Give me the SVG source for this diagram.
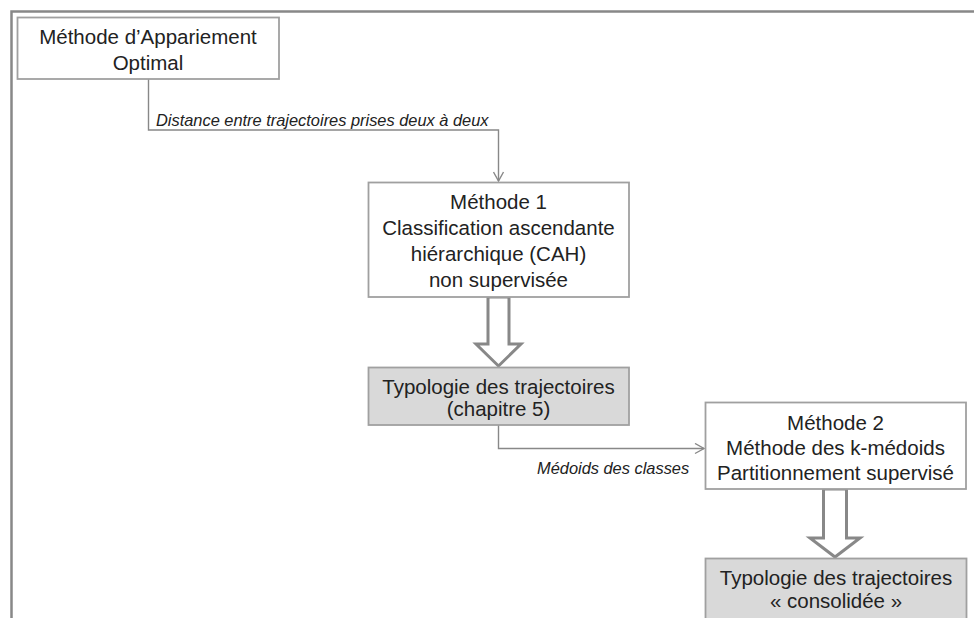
<svg xmlns="http://www.w3.org/2000/svg" width="974" height="618" viewBox="0 0 974 618">
<style>
.box{fill:#fff;stroke:#a0a0a0;stroke-width:1.8}
.gbox{fill:#d9d9d9;stroke:#a0a0a0;stroke-width:1.8}
.t{font-family:"Liberation Sans",Arial,sans-serif;font-size:20.5px;fill:#222;text-anchor:middle}
.lbl{font-family:"Liberation Sans",Arial,sans-serif;font-size:16.4px;font-style:italic;fill:#222}
.conn{fill:none;stroke:#888;stroke-width:1.4}
.big{fill:#fff;stroke:#888;stroke-width:3;stroke-linejoin:miter}
</style>
<defs>
<marker id="ah" markerWidth="12" markerHeight="12" refX="10" refY="6" orient="auto" markerUnits="userSpaceOnUse">
<path d="M1,1 L10,6 L1,11" fill="none" stroke="#888" stroke-width="1.4"/>
</marker>
</defs>
<rect width="974" height="618" fill="#fff"/>
<g id="frame">
<path d="M11.5,618 V11.5 H974" fill="none" stroke="#888" stroke-width="2.5"/>
</g>
<g id="connectors">
<path class="conn" d="M148.5,79 V130 H498.5 V181" marker-end="url(#ah)"/>
<text class="lbl" x="156" y="126">Distance entre trajectoires prises deux à deux</text>
<path class="conn" d="M498.5,425 V448.5 H704" marker-end="url(#ah)"/>
<text class="lbl" x="537" y="474">Médoids des classes</text>
<path class="big" d="M488,297 V344 H476 L498.5,366 L521,344 H509 V297 Z"/>
<path class="big" d="M823.5,489 V538 H810 L835,557 L860,538 H846.5 V489 Z"/>
</g>
<g id="n1">
<rect class="box" x="17.5" y="17.5" width="261.5" height="61.5"/>
<text class="t" x="148" y="44">Méthode d’Appariement</text>
<text class="t" x="148" y="70">Optimal</text>
</g>
<g id="n2">
<rect class="box" x="368.5" y="182.5" width="260.5" height="114.5"/>
<text class="t" x="498.5" y="209">Méthode 1</text>
<text class="t" x="498.5" y="235">Classification ascendante</text>
<text class="t" x="498.5" y="261">hiérarchique (CAH)</text>
<text class="t" x="498.5" y="287">non supervisée</text>
</g>
<g id="n3">
<rect class="gbox" x="368.5" y="367.5" width="260.5" height="57.5"/>
<text class="t" x="498.5" y="394">Typologie des trajectoires</text>
<text class="t" x="498.5" y="416">(chapitre 5)</text>
</g>
<g id="n4">
<rect class="box" x="705.5" y="402.5" width="260.5" height="86.5"/>
<text class="t" x="835.5" y="430">Méthode 2</text>
<text class="t" x="835.5" y="455">Méthode des k-médoids</text>
<text class="t" x="835.5" y="480">Partitionnement supervisé</text>
</g>
<g id="n5">
<rect class="gbox" x="705.5" y="558.5" width="261" height="70"/>
<text class="t" x="836" y="585">Typologie des trajectoires</text>
<text class="t" x="836" y="608">« consolidée »</text>
</g>
</svg>
